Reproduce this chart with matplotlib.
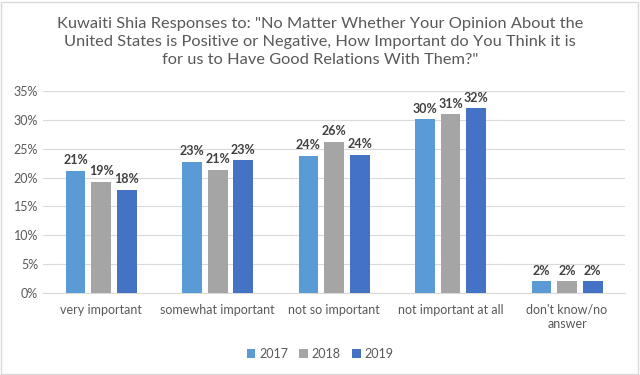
import numpy as np
import matplotlib.pyplot as plt
from matplotlib.patches import Rectangle

plt.rcParams['font.family'] = ['Lato', 'DejaVu Sans']

categories = ['very important', 'somewhat important', 'not so important',
              'not important at all', "don't know/no\nanswer"]
years = ['2017', '2018', '2019']
v2017 = [21.2, 22.7, 23.8, 30.1, 2.0]
v2018 = [19.3, 21.3, 26.2, 31.0, 2.0]
v2019 = [17.9, 23.0, 24.0, 32.0, 2.0]
labels2017 = ['21%', '23%', '24%', '30%', '2%']
labels2018 = ['19%', '21%', '26%', '31%', '2%']
labels2019 = ['18%', '23%', '24%', '32%', '2%']

colors = ['#5B9BD5', '#A5A5A5', '#4472C4']
text_col = '#595959'

fig = plt.figure(figsize=(6.4, 3.75), dpi=100)
ax = fig.add_axes([0.067, 0.219, 0.91, 0.538])

x = np.arange(len(categories))
w = 0.17
step = 0.22
series = [(v2017, labels2017), (v2018, labels2018), (v2019, labels2019)]
for i, (vals, labs) in enumerate(series):
    bars = ax.bar(x + (i - 1) * step, vals, width=w, color=colors[i], label=years[i], zorder=3)
    for b, lab in zip(bars, labs):
        ax.text(b.get_x() + b.get_width() / 2, b.get_height() + 0.8, lab,
                ha='center', va='bottom', fontsize=9, fontweight='bold', color='#404040')

ax.set_ylim(0, 35)
ax.set_xlim(-0.5, len(categories) - 0.5)
ax.set_yticks(np.arange(0, 36, 5))
ax.set_yticklabels([f'{t}%' for t in range(0, 36, 5)])
ax.set_xticks(x)
ax.set_xticklabels(categories)
ax.tick_params(axis='both', length=0, labelsize=9, colors=text_col)
ax.tick_params(axis='x', pad=8)
ax.grid(axis='y', color='#D9D9D9', linewidth=0.8, zorder=0)
for s in ['top', 'right', 'left']:
    ax.spines[s].set_visible(False)
ax.spines['bottom'].set_color('#D9D9D9')

fig.suptitle('Kuwaiti Shia Responses to: "No Matter Whether Your Opinion About the\n'
             'United States is Positive or Negative, How Important do You Think it is\n'
             'for us to Have Good Relations With Them?"',
             y=0.955, fontsize=11.8, color=text_col, linespacing=1.35)

fig.legend(loc='lower center', bbox_to_anchor=(0.5, 0.01), ncol=3, frameon=False,
           fontsize=9, labelcolor=text_col, handlelength=0.7, handleheight=0.7,
           handletextpad=0.3, columnspacing=0.9)

fig.patches.append(Rectangle((0.002, 0.003), 0.995, 0.993, transform=fig.transFigure,
                             fill=False, edgecolor='#D9D9D9', linewidth=1))

fig.savefig('out.png', dpi=100)
